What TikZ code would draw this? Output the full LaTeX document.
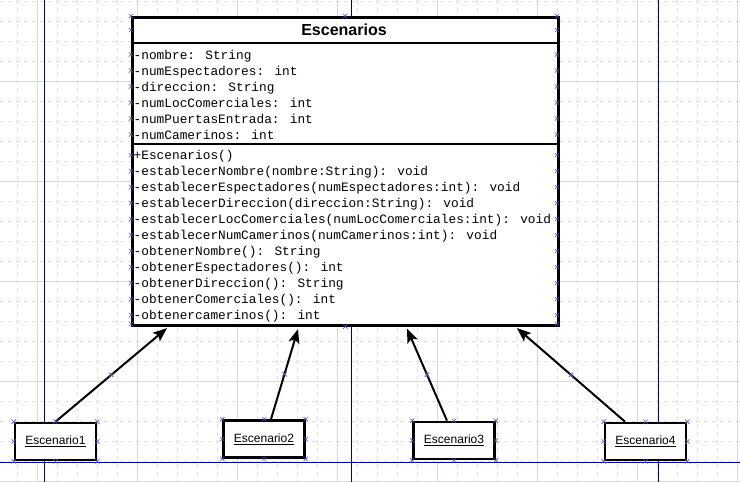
\documentclass[tikz,border=0pt]{standalone}
\usepackage{fontspec}
\setmainfont{Liberation Sans}
\newfontfamily\monof{Liberation Mono}
\usetikzlibrary{arrows.meta,calc}
\definecolor{gridgray}{RGB}{222,226,226}
\definecolor{gridsolid}{RGB}{210,218,218}
\definecolor{guideblue}{RGB}{0,0,160}
\definecolor{mkblue}{RGB}{80,80,210}
\begin{document}
\begin{tikzpicture}[x=1pt,y=-1pt,
  gridd/.style={draw=gridgray, line width=0.8pt, dash pattern=on 4pt off 4pt},
  grids/.style={draw=gridsolid, line width=1pt},
  guide/.style={draw=guideblue, line width=1pt},
  border/.style={draw=black, line width=2.6pt},
  classbox/.style={draw=black, fill=white, line width=2.6pt, minimum width=426pt, minimum height=308pt, inner sep=0pt, anchor=north west},
  mono/.style={anchor=west, inner sep=0pt, font=\monof\fontsize{12.8}{15}\selectfont, text height=9pt, text depth=3pt},
  titlefont/.style={inner sep=0pt, font=\bfseries\fontsize{16}{18}\selectfont},
  objbox/.style={draw=black, line width=2.6pt, fill=white, minimum width=81pt, minimum height=37pt, inner sep=0pt, font=\fontsize{12}{14}\selectfont},
  inh/.style={draw=black, line width=2pt, -{Stealth[length=14pt,width=11pt,inset=3pt]}},
  mkx/.pic={\draw[draw=mkblue, line width=0.6pt] (-2.2,-2.2) -- (2.2,2.2) (-2.2,2.2) -- (2.2,-2.2);}
]
\useasboundingbox (0,0) rectangle (740,482);
\fill[white] (0,0) rectangle (740,482);
% grid
\foreach \x in {17.5,37.5,...,737.5} \draw[gridd] (\x,0) -- (\x,482);
\foreach \y in {1,21,...,481} \draw[gridd] (0,\y) -- (740,\y);
\foreach \x in {37.5,137.5,...,737.5} \draw[grids] (\x,0) -- (\x,482);
\foreach \y in {81,181,...,481} \draw[grids] (0,\y) -- (740,\y);
% guides
\draw[guide] (44,0) -- (44,482);
\draw[guide] (351,0) -- (351,482);
\draw[guide] (658,0) -- (658,482);
\draw[guide] (0,462) -- (740,462);
% class
\node[classbox] (cls) at (131,16) {};
\draw[border] (131,43) -- (557,43);
\draw[border] (131,144) -- (557,144);
\node[titlefont] (title) at (344,30) {Escenarios};
\foreach \t [count=\i] in {-nombre: String,-numEspectadores: int,-direccion: String,-numLocComerciales: int,-numPuertasEntrada: int,-numCamerinos: int}
  \node[mono] (at\i) at (133.5,{56+16*(\i-1)}) {\t};
\foreach \t [count=\i] in {+Escenarios(),-establecerNombre(nombre:String): void,-establecerEspectadores(numEspectadores:int): void,-establecerDireccion(direccion:String): void,-establecerLocComerciales(numLocComerciales:int): void,-establecerNumCamerinos(numCamerinos:int): void,-obtenerNombre(): String,-obtenerEspectadores(): int,-obtenerDireccion(): String,-obtenerComerciales(): int,-obtenercamerinos(): int}
  \node[mono] (op\i) at (133.5,{156.5+16*(\i-1)}) {\t};
% objects
\node[objbox] (e1) at (55.5,441.5) {\underline{Escenario1}};
\node[objbox] (e2) at (264,439) {\underline{Escenario2}};
\node[objbox] (e3) at (454,440.5) {\underline{Escenario3}};
\node[objbox] (e4) at (645.5,441.5) {\underline{Escenario4}};
% connector endpoints
\coordinate (s1) at (e1.north);
\coordinate (s2) at ($(e2.north)+(7,0)$);
\coordinate (s3) at ($(e3.north)+(-7,0)$);
\coordinate (s4) at ($(e4.north)+(-20.5,0)$);
\coordinate (t1) at ($(cls.south west)+(36,1.5)$);
\coordinate (t2) at ($(cls.south west)+(167,2.5)$);
\coordinate (t3) at ($(cls.south west)+(276,2)$);
\coordinate (t4) at ($(cls.south west)+(386,1.5)$);
\foreach \i in {1,2,3,4} \draw[inh] (s\i) -- (t\i);
% handle markers
\foreach \y in {16,30,54.5,70.5,86.5,102.5,118.5,134.5,155,171,187,203,219,235,251,267,283,299,315,324}
  {\pic at (131,\y) {mkx}; \pic at (557,\y) {mkx};}
\pic at (cls.north) {mkx};
\pic at (cls.south) {mkx};
\foreach \n in {e1,e2,e3,e4}
  \foreach \a in {north west,north,north east,east,south east,south,south west,west}
    \pic at (\n.\a) {mkx};
\foreach \i in {1,2,3,4} \pic at ($(s\i)!0.5!(t\i)$) {mkx};
\end{tikzpicture}
\end{document}
